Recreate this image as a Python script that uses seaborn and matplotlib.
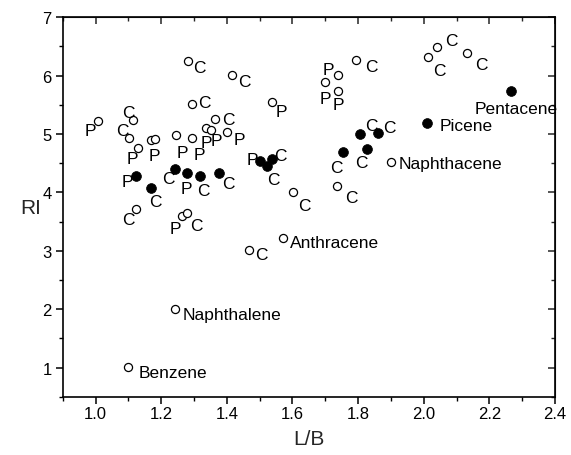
import numpy as np
import pandas as pd
import matplotlib
matplotlib.use("Agg")
import matplotlib.pyplot as plt
import seaborn as sns
from matplotlib.ticker import MultipleLocator

# ---- data: open circles ----
open_lb = [1.008, 1.113, 1.102, 1.128, 1.170, 1.182, 1.245, 1.293, 1.336, 1.351,
           1.364, 1.402, 1.281, 1.417, 1.293, 1.537, 1.123, 1.263, 1.280, 1.603,
           1.737, 1.469, 1.794, 1.738, 1.699, 1.738, 2.040, 2.014, 2.133,
           1.899, 1.570, 1.242, 1.100]
open_ri = [5.224, 5.236, 4.939, 4.767, 4.905, 4.912, 4.979, 4.927, 5.111, 5.070,
           5.253, 5.042, 6.255, 6.014, 5.523, 5.557, 3.708, 3.593, 3.651, 4.012,
           4.108, 3.021, 6.272, 6.014, 5.884, 5.740, 6.485, 6.313, 6.382,
           4.515, 3.222, 2.008, 1.006]
open_labels = ["P", "C", "C", "P", "P", "", "P", "P", "P", "P",
               "C", "P", "C", "C", "C", "P", "C", "P", "C", "C",
               "C", "C", "C", "P", "P", "P", "C", "C", "C",
               "Naphthacene", "Anthracene", "Naphthalene", "Benzene"]

# ---- data: filled circles ----
fill_lb = [1.123, 1.169, 1.242, 1.280, 1.318, 1.377, 1.501, 1.522, 1.537,
           1.755, 1.806, 1.826, 1.862, 2.009, 2.265]
fill_ri = [4.280, 4.081, 4.407, 4.338, 4.280, 4.338, 4.538, 4.452, 4.579,
           4.692, 4.996, 4.738, 5.013, 5.185, 5.740]
fill_labels = ["P", "C", "C", "P", "C", "C", "P", "C", "C",
               "C", "C", "C", "C", "Picene", "Pentacene"]

x_ticks = [1.0, 1.2, 1.4, 1.6, 1.8, 2.0, 2.2, 2.4]
y_ticks = [1, 2, 3, 4, 5, 6, 7]

# ---- label placement (pixels: right, down) ----
open_offsets = [(-8, 10), (-4, -8), (-7, -7), (-5, 11), (3, 16), (0, 0), (6, 17), (8, 16), (1, 15), (6, 11),
                (13, 0), (12, 8), (12, 7), (12, 7), (13, -1), (10, 10), (-8, 10), (-6, 12), (9, 13), (11, 14),
                (14, 11), (12, 5), (15, 7), (-9, -5), (0, 16), (1, 14), (15, -7), (11, 13), (14, 11),
                (8, 1), (7, 5), (8, 6), (10, 5)]
fill_offsets = [(-9, 5), (4, 14), (-7, 10), (-1, 16), (3, 14), (9, 11), (-8, -2), (7, 13), (9, -3),
                (-7, 15), (11, -9), (-5, 13), (11, -6), (13, 2), (-36, 18)]

sns.set_style("ticks")
plt.rcParams["font.family"] = ["Liberation Sans", "DejaVu Sans"]

df_open = pd.DataFrame({"LB": open_lb, "RI": open_ri})
df_fill = pd.DataFrame({"LB": fill_lb, "RI": fill_ri})

fig = plt.figure(figsize=(5.71, 4.56), dpi=100)
ax = fig.add_axes([0.1098, 0.1278, 0.8622, 0.8321])

sns.scatterplot(data=df_open, x="LB", y="RI", ax=ax, s=34, marker="o",
                facecolor="white", edgecolor="black", linewidth=0.9, zorder=3)
sns.scatterplot(data=df_fill, x="LB", y="RI", ax=ax, s=50, marker="o",
                color="black", edgecolor="black", linewidth=0.5, zorder=3)

def put(xs, ys, labels, offs):
    for x, y, lab, (dx, dy) in zip(xs, ys, labels, offs):
        if not lab:
            continue
        ha = "center" if len(lab) == 1 else "left"
        ax.annotate(lab, (x, y), xytext=(dx, -dy), textcoords="offset pixels",
                    ha=ha, va="center", fontsize=12.5, color="black", zorder=4)

put(open_lb, open_ri, open_labels, open_offsets)
put(fill_lb, fill_ri, fill_labels, fill_offsets)

ax.set_xlim(0.9, 2.4)
ax.set_ylim(0.5, 7)
ax.set_xticks(x_ticks)
ax.set_xticklabels([f"{v:.1f}" for v in x_ticks])
ax.set_yticks(y_ticks)
ax.set_yticklabels([str(v) for v in y_ticks])
ax.xaxis.set_minor_locator(MultipleLocator(0.1))
ax.yaxis.set_minor_locator(MultipleLocator(0.5))
ax.tick_params(which="major", direction="out", length=5, width=1.1, labelsize=12, colors="black")
ax.tick_params(axis="x", which="major", pad=2)
ax.tick_params(axis="y", which="major", pad=3)
ax.tick_params(which="minor", direction="out", length=3, width=1.0, colors="black")
for sp in ax.spines.values():
    sp.set_visible(True)
    sp.set_linewidth(1.2)
    sp.set_color("black")

top = ax.secondary_xaxis("top")
top.set_xticks(x_ticks)
top.xaxis.set_minor_locator(MultipleLocator(0.1))
top.tick_params(which="major", direction="in", length=5, width=1.1, labeltop=False)
top.tick_params(which="minor", direction="in", length=3, width=1.0)
right = ax.secondary_yaxis("right")
right.set_yticks(y_ticks)
right.yaxis.set_minor_locator(MultipleLocator(0.5))
right.tick_params(which="major", direction="in", length=5, width=1.1, labelright=False)
right.tick_params(which="minor", direction="in", length=3, width=1.0)

ax.set_xlabel("L/B", fontsize=15)
ax.set_ylabel("RI", fontsize=15, rotation=0, va="center", ha="center")
ax.yaxis.set_label_coords(-0.066, 0.5)
ax.xaxis.set_label_coords(0.5, -0.085)

fig.savefig("out.png", dpi=100)
